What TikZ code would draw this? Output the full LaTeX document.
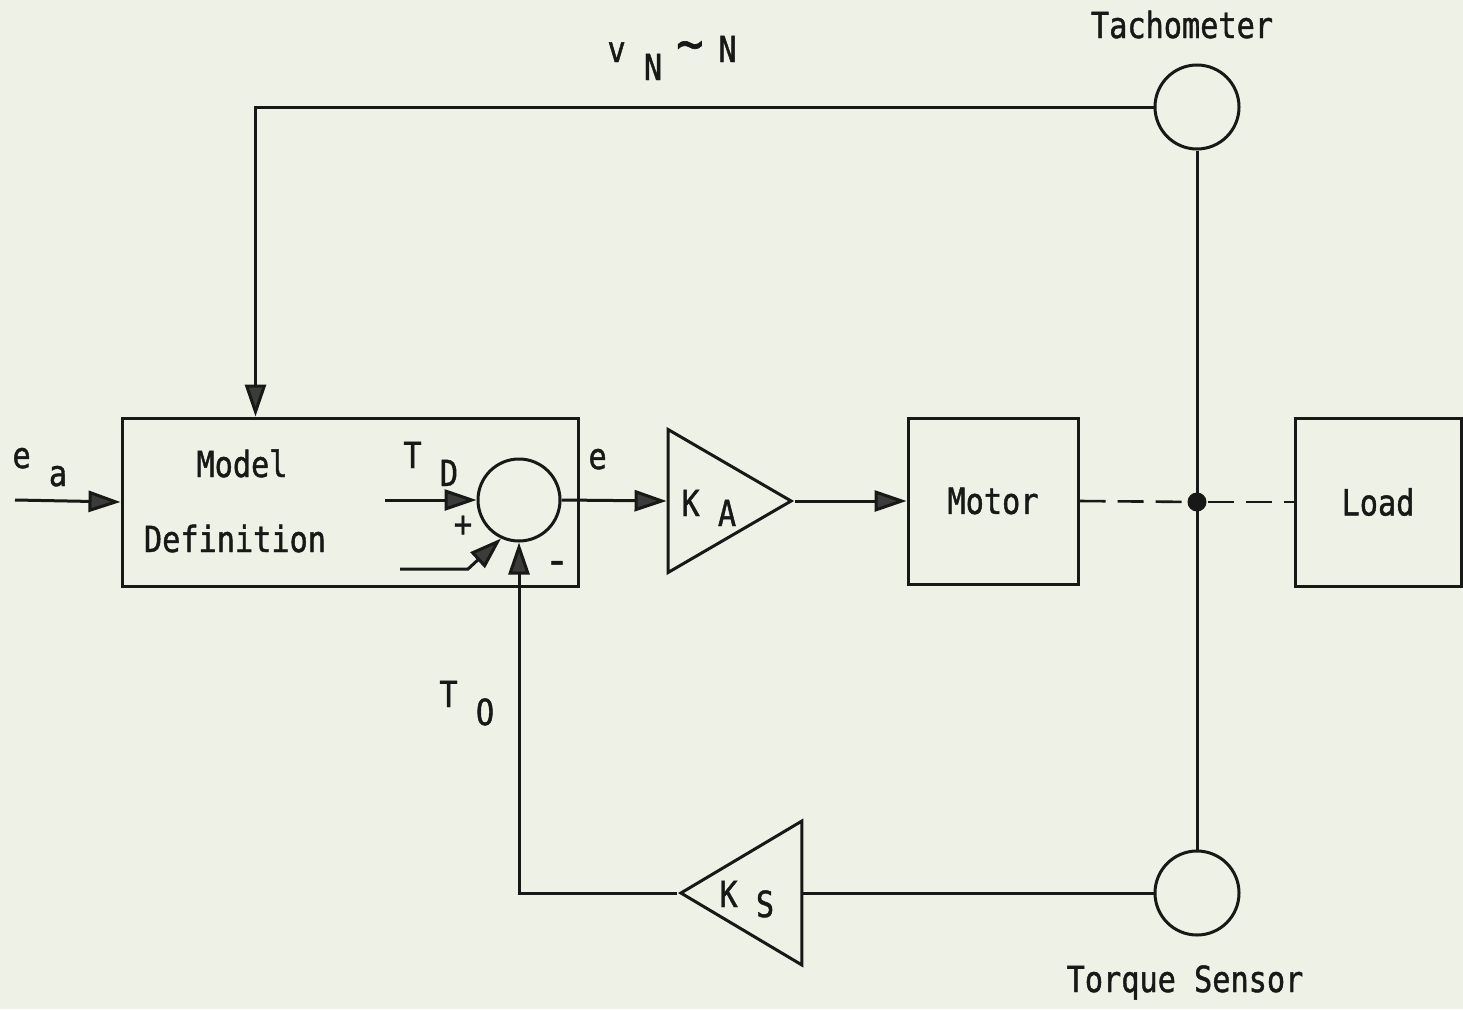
\documentclass[tikz,border=0pt]{standalone}
\usepackage{fontspec}
\newfontfamily\typew[FakeStretch=0.84, FakeBold=1.2]{DejaVu Sans Mono}
\usepackage{graphicx}
\usepackage{tikz}
\usetikzlibrary{arrows.meta, shapes.geometric, positioning}
\definecolor{paper}{RGB}{238,241,230}
\definecolor{ink}{RGB}{24,24,22}
\newcommand{\lowr}[2][18pt]{\raisebox{-#1}{#2}}

\begin{document}
\begin{tikzpicture}[x=1pt, y=-1pt, line width=3pt, color=ink,
    block/.style = {draw, rectangle, inner sep=0pt, font=\fontsize{36}{40}\typew},
    sens/.style = {draw, circle, minimum size=84pt, inner sep=0pt},
    amp/.style = {draw, isosceles triangle, isosceles triangle stretches, inner sep=0pt},
    txt/.style = {font=\fontsize{36}{40}\typew, inner sep=0pt},
    arr/.style = {-{Triangle[length=32pt, width=21pt, fill=ink!85]}},
    shaft/.style = {line width=2.6pt, dash pattern=on 26pt off 12pt}]
            \fill[paper] (0,0) rectangle (1463,1009);
            \useasboundingbox (0,0) rectangle (1463,1009);

            \node[block, minimum width=456pt, minimum height=168pt] (model) at (350,502) {};
            \node[sens, minimum size=82pt] (sum) at (519,500) {};
            \node[amp, minimum width=143pt, minimum height=123pt, anchor=apex] (ka) at (795,501) {};
            \node[block, minimum width=170pt, minimum height=166pt] (motor) at (993,501) {Motor};
            \node[block, minimum width=166pt, minimum height=168pt] (load) at (1378,502) {Load};
            \node[sens] (tach) at (1197,107) {};
            \node[sens] (torq) at (1197,893) {};
            \node[amp, shape border rotate=180, minimum width=144pt, minimum height=121pt, anchor=apex] (ks) at (677,893) {};
            \coordinate (ea) at (15,500);
            \coordinate (td) at (385,500);
            \coordinate (tplus) at (400,569);

            \draw (tach.south) -- (torq.north);
            \node[circle, fill=ink, minimum size=19pt, inner sep=0pt] (hub) at (1197,502) {};

            \draw[arr] (ea) -- (model.west);
            \draw[arr] (tach.west) -| ([xshift=135pt]model.north west);
            \draw[arr] (td) -- (sum.west);
            \draw[arr] (tplus) -- ++(68,0) -- (sum.-115);
            \draw[arr] (sum.east) -- (ka.west);
            \draw[arr] (ka.apex) -- (motor.west);
            \draw[shaft] (motor.east) -- (hub);
            \draw[shaft] (hub) -- (load.west);
            \draw (torq.west) -- (ks.east);
            \draw[arr] (ks.apex) -| (sum.south);

            \node[txt, anchor=base west] at (11,468) {e~\lowr{a}};
            \node[txt, anchor=base] at (242,477) {Model};
            \node[txt, anchor=base] at (235,552) {Definition};
            \node[txt, anchor=base west] at (402,468) {T~\lowr{D}};
            \node[txt] at (463,526) {+};
            \node[txt] at (557,568) {\scalebox{1.4}[1.2]{-}};
            \node[txt, anchor=base west] at (587,469) {e};
            \node[txt, anchor=base west] at (680,516) {K~\lowr[10pt]{A}};
            \node[txt, anchor=base west] at (718,907) {K~\lowr[10pt]{S}};
            \node[txt, anchor=base west] at (438,707) {T~\lowr{O}};
            \node[txt, anchor=base west] at (606,62) {v~\lowr{N}\hspace{14pt}\scalebox{1.5}{∼}\hspace{15pt}N};
            \node[txt, anchor=base] at (1182,38) {Tachometer};
            \node[txt, anchor=base] at (1185,992) {Torque Sensor};
        \end{tikzpicture}
\end{document}
